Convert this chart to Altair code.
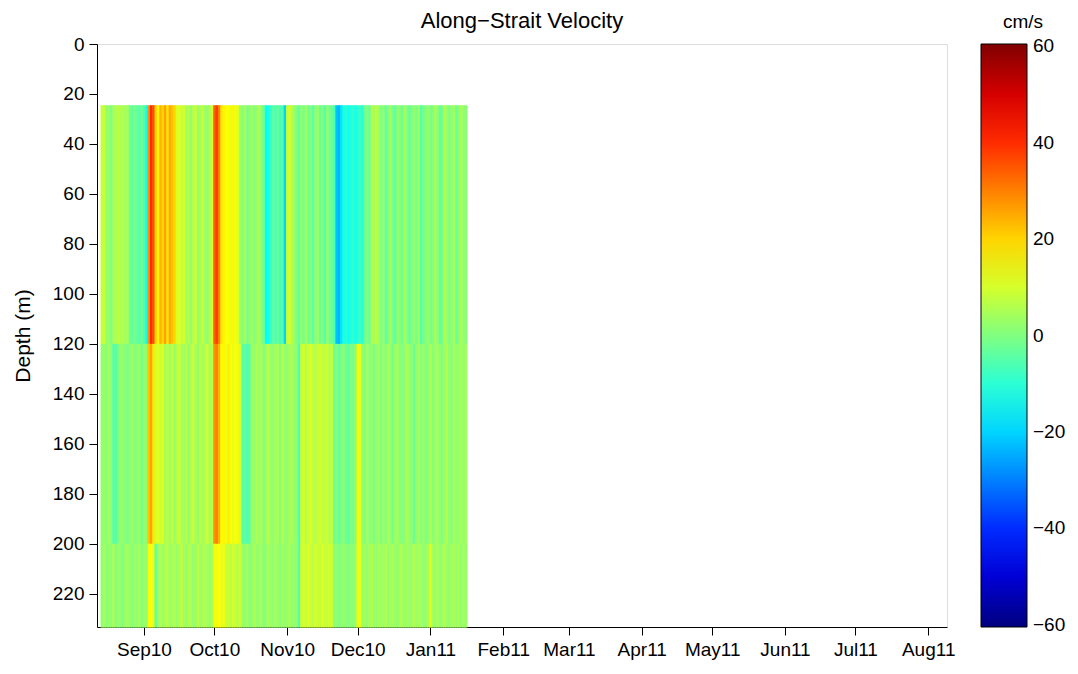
import altair as alt
import pandas as pd

# Along-strait velocity (cm/s), one value per day, for three depth layers
upper_cms = [
    8, 9, 2, 3, 0, 4, 6, 7, 5, 6, 4, 5,
    -2, -4, -1, -3, -5, -2, -6, -13, 28, 40, 36, 20, 16,
    24, 20, 26, 18, 25, 22, 20, 10, 12, 8, 10,
    4, 7, 2, 6, 9, 3, 5, 8, 4, 2, 6, 10,
    34, 38, 30, 18, 16, 14, 15, 12, 16, 13, 11,
    3, 1, 5, -1, 2, 4, 0, 3, 6, 1, -2,
    -15, -13, -8, -4, -6, -3, -7, -5, -20, 8, 10, 6, 3,
    0, -3, 2, -1, 4, -2, 0, -4, 1, 3, -2, 0, -5, 2, -1, -3, -6,
    -22, -24, -18, -12, -10, -14, -11, -9, -13, -10, -8, -11,
    -2, 0, -3, 6, 5, 7, 4,
    0, 2, -3, 1, 4, -1, -4, 3, 0, -2, 5, 1, -3, 0, 2, -1, 4, -5, -2, 1,
    3, -1, 0, 5, 2, -3, -1, 6, 3, 0, 2, 4, -2, 1, 5, 3, 1,
]
middle_cms = [
    2, 3, 1, 4, 2, -5, -4,
    0, 2, 3, 1, -1, 2, 4, 0, 1, 3, -1, 2, 1,
    22, 26, 18, 10, 12, 9, 11,
    5, 7, 4, 8, 3, 6, 9, 5, 4, 7, 2, 6, 8, 5, 3, 7, 4, 6, 9, 5, 6,
    28, 30, 24, 15, 16, 13, 17, 14, 12, 15, 13, 10,
    -5, -4, -6, -3,
    4, 2, 6, 3, 5, 1, 4, 7, 3, 2, 5, 4, 1, 6, 3, 2, 5, 4, 3, 2,
    -6, 8, 10, 7, 9, 11, 8, 6, 9, 10, 7, 8, 9, 6, 8,
    -2, 0, -3, -1, 1, -2, -4, 0, -1, 1, 14, 12,
    2, 0, 4, 1, 3, -1, 2, 4, 0, 3, 1, 5, 2, -1, 3, 4, 1, 0, 2, 5,
    3, 1, -2, 2, 4, 1, 3, 0, 2, 5, 1, 3, 4, 2, 0, 3, 6, 2, 1, 4,
    2, 3, 5, 2, 4,
]
lower_cms = [
    2, 4, 1, 3, 2, 5, 1, 3, 2, 0, 3, 4, 2, 1, 3, 2, 4, 1, 3, 2,
    14, 15, 12, -4,
    4, 6, 3, 5, 7, 3, 4, 6, 2, 5, 8, 4, 3, 6, 5, 2, 4, 7, 3, 5, 6, 4, 3, 5,
    14, 13, 15, 12, 13, 8, 9, 7, 10, 8, 7, 9,
    3, 2, 4, 1, 3, 5, 2, 3, 4, 1, 2, 5, 3, 2, 4, 3, 1, 4, 2, 3, 5, 2, 3, 2,
    -5, 9, 10, 8, 11, 9, 7, 10, 9, 8, 11, 9, 8, 10, 9,
    1, 2, 0, 1, 3, 1, 0, 2, 1, 2, 13, 12,
    3, 5, 2, 4, 6, 3, 2, 5, 4, 3, 6, 2, 4, 5, 3, 2, 6, 4, 3, 5,
    2, 4, 6, 3, 5, 4, 2, 3, 5, 12, 4, 3, 5, 2, 4, 6, 3, 2, 5, 4,
    3, 5, 2, 4, 3,
]
layer_top_m = [24.5, 120.0, 200.0]
layer_bottom_m = [120.0, 200.0, 233.3]
series_start = "2010-08-13T12:00:00Z"
sample_hours = 24

month_ticks = [(2010, m) for m in range(9, 13)] + [(2011, m) for m in range(1, 9)]
colour_ticks = [-60, -40, -20, 0, 20, 40, 60]

# jet colour map over -60..60 cm/s (ends padded slightly so the end labels sit centred)
jet_stops = [-60.5, -45, -15, 15, 45, 60.5]
jet_colours = ["#000080", "#0000ff", "#00ffff", "#ffff00", "#ff0000", "#800000"]

start = pd.Timestamp(series_start)
records = []
for series, top, bottom in zip([upper_cms, middle_cms, lower_cms], layer_top_m, layer_bottom_m):
    for i, v in enumerate(series):
        t0 = start + pd.Timedelta(hours=sample_hours * i)
        t1 = t0 + pd.Timedelta(hours=sample_hours)
        records.append({"t0": t0.isoformat(), "t1": t1.isoformat(),
                        "d0": top, "d1": bottom, "v": v})
df = pd.DataFrame(records)

FONT = "Liberation Sans"
LABEL_SIZE = 19

x_axis = alt.Axis(
    values=[alt.DateTime(year=y, month=m, date=1, utc=True) for y, m in month_ticks],
    format="%b%y", title=None, grid=False, tickSize=8, labelPadding=5,
    labelFontSize=LABEL_SIZE, labelFont=FONT, labelColor="black", tickColor="black",
    domainColor="black", labelOverlap=False, labelFlush=False,
)
y_axis = alt.Axis(
    values=list(range(0, 221, 20)), title="Depth (m)", grid=False, tickSize=8,
    labelPadding=5, labelFontSize=LABEL_SIZE, labelFont=FONT, labelColor="black",
    tickColor="black", domainColor="black", titleFontSize=21, titleFont=FONT,
    titleFontWeight="normal", titleColor="black", titlePadding=19,
)

colour_legend = alt.Legend(
    type="gradient", title="cm/s", orient="none", legendX=884, legendY=-31,
    direction="vertical", gradientLength=583, gradientThickness=46,
    gradientStrokeColor="black", gradientStrokeWidth=1,
    values=colour_ticks, labelFontSize=LABEL_SIZE, labelFont=FONT,
    labelColor="black", labelOffset=6, labelBaseline="middle",
    labelExpr="replace(datum.label, '-', '\u2212')",
    titleFontSize=19, titleFont=FONT, titleFontWeight="normal",
    titleColor="black", titleAnchor="middle", titlePadding=12,
)

# small overlaps on the right/bottom edges hide anti-aliasing seams between cells
chart = alt.Chart(df).mark_rect(x2Offset=0.6, y2Offset=0.6).encode(
    x=alt.X("t0:T", axis=x_axis, scale=alt.Scale(
        type="utc",
        domain=[alt.DateTime(year=2010, month=8, date=12, utc=True),
                alt.DateTime(year=2011, month=8, date=9, utc=True)])),
    x2="t1:T",
    y=alt.Y("d0:Q", axis=y_axis,
            scale=alt.Scale(domain=[0, 233.3], reverse=True, nice=False, zero=False)),
    y2="d1:Q",
    color=alt.Color("v:Q",
        scale=alt.Scale(domain=jet_stops, range=jet_colours, interpolate="rgb", clamp=True),
        legend=colour_legend),
).properties(
    width=850, height=583,
    title=alt.TitleParams("Along\u2212Strait Velocity", fontSize=22, font=FONT,
                          fontWeight="normal", color="black", anchor="middle",
                          frame="group", offset=0, dy=20),
    autosize=alt.AutoSizeParams(type="none"),
    padding={"left": 97, "top": 44, "right": 131, "bottom": 47},
).configure_view(stroke="black", strokeWidth=1).configure(background="white")

chart.save("out.html", embed_options={"renderer": "svg", "actions": False})
